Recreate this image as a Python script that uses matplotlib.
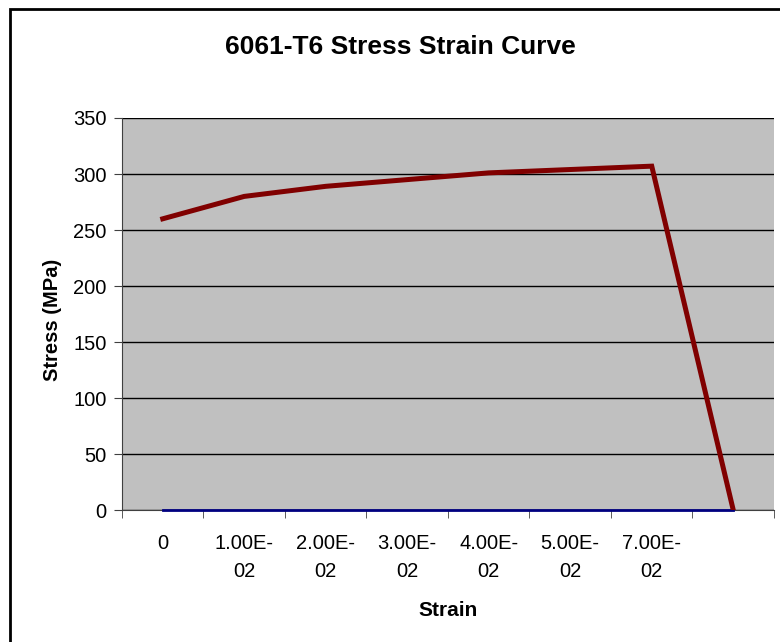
"""
Stress-strain curve for 6061-T6 aluminium, drawn as a category line chart.
"""

import matplotlib
matplotlib.use("Agg")
import matplotlib.pyplot as plt
from matplotlib.patches import Rectangle
from matplotlib.ticker import FixedLocator, NullFormatter

strain_labels = ["0", "1.00E-\n02", "2.00E-\n02", "3.00E-\n02", "4.00E-\n02",
                 "5.00E-\n02", "7.00E-\n02", ""]
stress_mpa = [260, 280, 289, 295, 301, 304, 307, 0]
baseline = [0, 0, 0, 0, 0, 0, 0, 0]

plt.rcParams.update({
    "font.family": ["Liberation Sans", "DejaVu Sans"],
    "font.size": 14.5,
})

fig = plt.figure(figsize=(7.8, 6.42), dpi=100)
ax = fig.add_axes([0.1564, 0.2056, 0.8359, 0.6106])

# outer chart frame
fig.patches.append(Rectangle((10 / 780, -0.1), 1.2, 1 - 9 / 642 + 0.1,
                             transform=fig.transFigure, fill=False,
                             edgecolor="black", lw=2))

x = list(range(len(strain_labels)))
ax.set_facecolor("#c0c0c0")
ax.plot(x, baseline, color="#000080", lw=2, zorder=3, clip_on=False)
ax.plot(x, stress_mpa, color="#800000", lw=3.6, zorder=4,
        solid_joinstyle="miter")

ax.set_xlim(-0.5, len(strain_labels) - 0.5)
ax.set_ylim(0, 350)
ax.set_yticks(range(0, 351, 50))
ax.yaxis.grid(True, color="black", lw=1)
ax.set_axisbelow(True)

ax.set_xticks(x)
ax.set_xticklabels(strain_labels, linespacing=1.6)
ax.tick_params(axis="x", length=0, pad=17)
ax.xaxis.set_minor_locator(FixedLocator([i - 0.5 for i in range(len(x) + 1)]))
ax.xaxis.set_minor_formatter(NullFormatter())
ax.tick_params(axis="x", which="minor", length=6, color="#404040")
ax.tick_params(axis="y", length=6, color="#404040", pad=5)

for side in ("top", "right"):
    ax.spines[side].set_visible(False)
ax.spines["left"].set_color("#404040")
ax.spines["bottom"].set_color("#404040")

ax.set_xlabel("Strain", fontweight="bold", fontsize=15, labelpad=15)
ax.set_ylabel("Stress (MPa)", fontweight="bold", fontsize=14.5, labelpad=10)
ax.yaxis.set_label_coords(-0.092, 0.485)
fig.text(400 / 780, 1 - 47 / 642, "6061-T6 Stress Strain Curve", ha="center",
         va="center", fontweight="bold", fontsize=19)

fig.savefig("out.png", dpi=100)
